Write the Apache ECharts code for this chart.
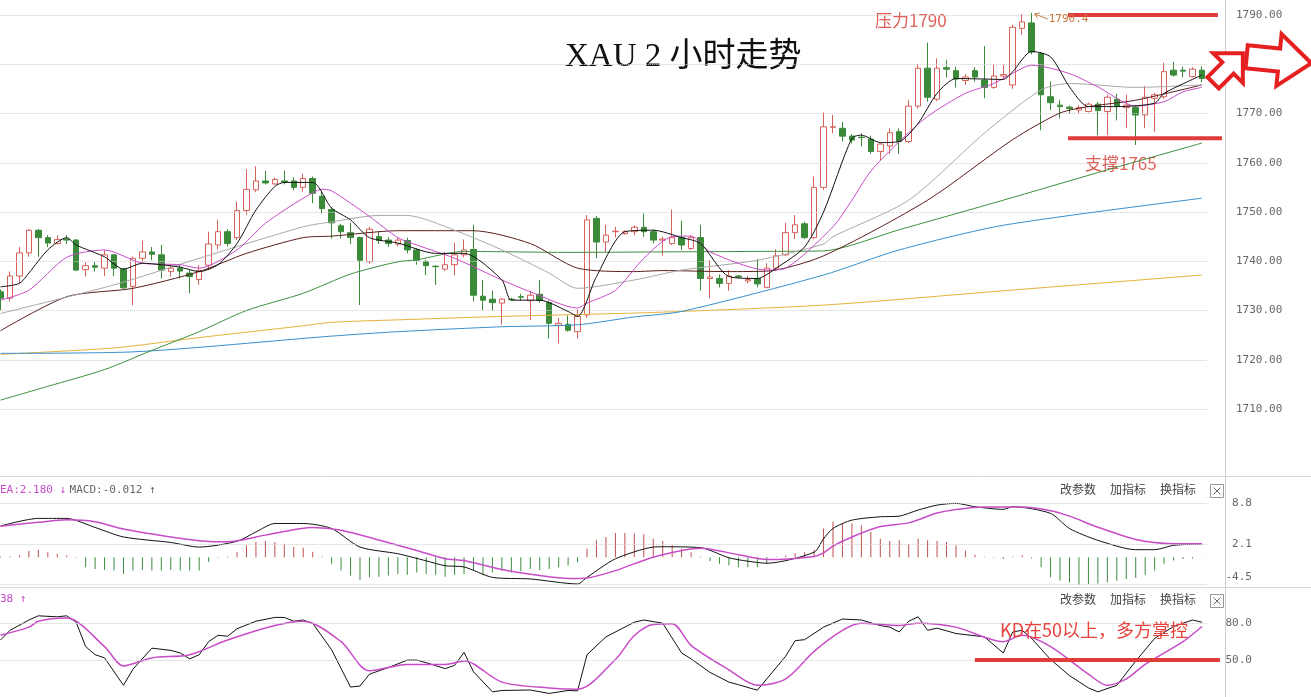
<!DOCTYPE html>
<html>
<head>
<meta charset="utf-8">
<script src="https://cdn.jsdelivr.net/npm/echarts@6.0.0/dist/echarts.min.js"></script>
<style>html,body{margin:0;padding:0;background:#fff;overflow:hidden;width:1311px;height:697px;position:relative}
#chart{position:absolute;left:-10px;top:-40px;width:1321px;height:737px}</style>
</head>
<body>
<div id="chart"></div>
<script>
// ---------- price data (2h candles) ----------
const opens = [1733.8,1732.5,1737.0,1741.7,1746.3,1744.8,1743.6,1744.5,1744.3,1738.3,
1739.1,1738.6,1741.3,1738.4,1734.9,1740.6,1741.9,1741.3,1737.9,1738.6,
1737.6,1736.3,1739.2,1743.3,1746.0,1744.8,1750.3,1754.5,1756.3,1755.7,
1756.3,1756.3,1755.0,1756.8,1753.2,1750.5,1747.2,1745.8,1744.8,1739.9,
1745.0,1744.3,1743.5,1744.2,1742.3,1739.9,1739.0,1738.4,1739.3,1741.3,
1742.4,1732.9,1732.3,1731.5,1732.3,1732.8,1732.0,1733.3,1731.6,1727.0,
1727.2,1725.7,1729.1,1748.7,1743.9,1746.0,1745.6,1746.0,1746.9,1746.0,
1744.3,1743.6,1744.8,1742.6,1744.8,1736.5,1736.5,1735.5,1737.0,1736.0,
1736.5,1734.7,1738.6,1741.3,1745.8,1747.6,1744.8,1755.0,1767.2,1767.0,
1765.4,1765.2,1764.8,1762.3,1763.4,1766.3,1764.3,1771.5,1779.2,1772.9,
1779.3,1778.7,1776.7,1778.7,1776.8,1775.3,1777.6,1775.8,1787.3,1788.4,
1782.2,1773.4,1771.7,1771.3,1770.7,1770.4,1771.9,1770.4,1772.9,1771.2,
1771.2,1769.7,1773.1,1773.4,1778.8,1778.8,1777.5,1778.8];
const closes = [1732.5,1737.0,1741.7,1746.3,1744.8,1743.7,1744.4,1744.3,1738.2,1739.1,
1738.8,1741.3,1738.6,1734.6,1740.6,1741.9,1741.4,1738.2,1738.6,1738.0,
1736.9,1738.1,1743.5,1746.0,1743.6,1750.3,1754.6,1756.3,1755.9,1756.6,
1756.1,1755.0,1756.8,1753.8,1750.7,1747.8,1746.0,1744.8,1740.2,1746.5,
1744.2,1743.6,1744.3,1742.3,1740.2,1739.1,1738.9,1739.3,1741.3,1742.3,
1733.1,1732.1,1731.6,1732.3,1732.2,1732.7,1733.1,1732.0,1727.4,1727.4,
1726.0,1728.8,1748.4,1743.9,1745.3,1746.1,1746.0,1746.9,1746.0,1744.3,
1744.5,1744.8,1743.3,1744.8,1736.5,1736.8,1735.5,1737.0,1736.8,1736.3,
1735.4,1738.6,1741.1,1745.8,1747.4,1744.8,1755.0,1767.3,1767.3,1765.4,
1764.6,1765.1,1762.3,1763.8,1766.1,1764.3,1771.5,1779.2,1773.3,1779.2,
1779.0,1777.0,1777.4,1777.4,1775.3,1777.6,1777.9,1787.5,1788.6,1782.5,
1773.8,1772.2,1771.4,1771.0,1771.2,1771.9,1770.6,1773.3,1771.5,1771.7,
1769.7,1773.3,1773.8,1778.5,1777.8,1778.6,1779.0,1777.1];
const highs = [1734.3,1737.9,1742.9,1746.5,1746.5,1745.3,1745.3,1745.3,1744.5,1739.8,
1739.9,1742.3,1741.5,1738.6,1741.0,1744.2,1742.9,1743.3,1739.3,1739.3,
1738.2,1739.2,1746.0,1748.4,1746.5,1752.1,1758.7,1759.3,1758.4,1757.0,
1758.4,1757.0,1757.8,1757.2,1754.1,1751.0,1747.6,1747.8,1745.0,1747.0,
1746.0,1744.9,1744.8,1744.8,1742.7,1740.3,1739.2,1741.9,1743.8,1744.4,
1747.4,1736.2,1734.0,1732.5,1732.6,1733.4,1734.0,1736.2,1732.0,1728.5,
1729.0,1730.2,1749.4,1749.2,1747.4,1747.0,1746.3,1747.3,1749.7,1746.5,
1745.0,1750.5,1748.2,1745.3,1747.4,1740.2,1737.3,1738.2,1737.2,1737.0,
1740.4,1739.6,1742.4,1747.8,1749.4,1748.0,1757.2,1770.2,1769.7,1768.3,
1765.8,1766.0,1765.5,1764.0,1767.0,1767.0,1772.7,1780.0,1784.4,1781.2,
1780.9,1779.5,1778.0,1779.4,1783.7,1779.9,1779.9,1788.0,1790.2,1790.4,
1782.5,1776.5,1772.7,1771.6,1771.7,1772.2,1772.3,1773.8,1774.0,1773.8,
1771.5,1775.6,1774.2,1780.3,1780.5,1779.5,1779.4,1779.6];
const lows = [1730.0,1731.8,1735.5,1740.9,1740.9,1742.9,1743.4,1743.5,1738.0,1736.9,
1737.9,1737.0,1737.0,1734.4,1731.1,1739.6,1740.2,1736.5,1736.9,1736.5,
1733.5,1735.2,1738.2,1742.4,1743.0,1744.3,1749.4,1754.0,1755.6,1755.5,
1755.6,1754.4,1754.1,1751.8,1749.7,1744.6,1744.6,1743.5,1731.1,1739.5,
1743.5,1742.9,1743.0,1741.6,1739.3,1737.2,1735.2,1738.0,1737.2,1740.8,
1731.8,1730.1,1729.9,1727.1,1732.0,1732.0,1728.1,1731.6,1724.3,1723.3,
1725.7,1724.3,1728.5,1740.6,1741.9,1744.8,1745.4,1745.3,1745.0,1743.6,
1741.1,1743.3,1742.3,1742.3,1734.0,1732.5,1734.7,1734.0,1736.5,1735.5,
1734.7,1734.5,1738.0,1741.0,1744.5,1744.5,1744.5,1754.5,1766.0,1764.3,
1763.9,1763.3,1761.8,1760.5,1761.8,1761.8,1764.0,1771.0,1772.4,1772.5,
1777.3,1775.3,1775.8,1776.5,1773.1,1775.0,1777.0,1775.0,1786.0,1782.0,
1766.6,1770.7,1769.0,1770.0,1770.0,1770.2,1765.6,1765.6,1768.6,1767.0,
1763.6,1767.0,1766.3,1773.0,1777.5,1777.3,1777.3,1776.4];

// ---------- moving averages: [candle index, value] ----------
const maBlack = [[0,1734.8],[2,1735.5],[3,1737.6],[5,1742.3],[7,1744.8],[8,1743.3],[11,1740.9],[13,1738.4],[15,1739.6],[17,1739.3],[19,1738.8],[21,1737.9],[23,1739.3],[25,1743.6],[27,1750.4],[29,1755.2],[30,1756],[33,1756],[35,1750.8],[37,1748.4],[39,1744.8],[42,1743.7],[46,1741.6],[49,1741.6],[53,1736.2],[54,1732.1],[57,1732.1],[60,1729.8],[61,1728.8],[63,1736.9],[66,1746],[69,1746.3],[72,1744.8],[74,1743.6],[77,1736.9],[80,1736.5],[82,1738.6],[85,1742.9],[87,1750],[90,1765],[91,1765.6],[93,1764.1],[95,1764.3],[97,1768],[99,1774.1],[101,1777.1],[104,1777],[106,1776.9],[107,1778.5],[109,1782.6],[111,1781.5],[113,1775.4],[115,1771.4],[118,1771.4],[122,1772.1],[123,1774.1],[127,1777.8]];
const maPink = [[0,1732.1],[3,1734.1],[7,1740.8],[11,1742.3],[15,1739.6],[19,1739.3],[21,1738.6],[25,1742.3],[28,1747.7],[32,1752.8],[34,1754.6],[35,1754.3],[39,1749.1],[42,1744.8],[44,1743.3],[48,1740.6],[53,1736.2],[56,1733.8],[61,1730.5],[62,1731.5],[65,1734.1],[68,1740.6],[71,1745],[73,1745.1],[75,1741.9],[81,1738.2],[83,1738.6],[88,1747],[90,1752.4],[92,1758.3],[95,1764.3],[98,1769.4],[102,1774.1],[105,1776.1],[108,1779.2],[109,1779.8],[113,1778.1],[116,1775.4],[120,1771.5],[123,1772.4],[125,1774.4],[127,1775.3]];
const maGray = [[0,1729.4],[12,1735.2],[21,1740.6],[32,1747],[35,1748],[40,1749.3],[43,1749.3],[48,1746.3],[53,1742.3],[58,1737.6],[61,1734.5],[67,1736.2],[72,1738.2],[80,1740.2],[87,1743.5],[88,1745],[96,1752.4],[104,1766],[110,1774.8],[113,1776.1],[120,1775.3],[127,1775.8]];
const maBrown = [[0,1725.9],[7,1732.8],[14,1734.5],[21,1737.9],[26,1741.6],[32,1744.8],[35,1745.1],[42,1746.2],[50,1746.2],[56,1743.6],[61,1738.6],[67,1737.9],[70,1738.1],[77,1737.9],[81,1738],[87,1741.1],[98,1752.4],[107,1764.7],[112,1770.1],[115,1771.4],[120,1772.7],[127,1775.8]];
const maGreen = [[0,1711.8],[5,1714.6],[11,1718],[16,1721.9],[21,1725.7],[26,1730],[32,1733.5],[37,1737.4],[42,1739.9],[44,1740.3],[49,1742],[60,1741.8],[70,1741.9],[80,1742],[87,1742.1],[95,1746.4],[106,1752.4],[116,1758],[127,1764]];
const maBlue = [[0,1721.3],[14,1721.6],[35,1724.8],[42,1725.7],[53,1726.7],[61,1727.1],[67,1728.7],[72,1729.8],[87,1737.2],[95,1742.3],[106,1747.3],[127,1752.8]];
const maYellow = [[0,1721.1],[12,1722.4],[21,1724.5],[32,1726.9],[35,1727.6],[42,1728.1],[53,1728.8],[69,1729.6],[87,1731.1],[106,1734],[127,1737.2]];

// ---------- MACD ----------
const macdDif = [[0,5.1],[4,6.33],[7,6.33],[10,4.85],[13,3.3],[18,2.4],[21,1.65],[25,2.59],[27,4.12],[29,5.5],[32,5.5],[35,4.68],[38,1.65],[42,0.56],[45,-0.6],[47,-1.4],[49,-1.6],[52,-3.3],[56,-3.56],[61,-4.38],[62,-3.3],[65,-0.27],[69,1.65],[70,1.7],[74,1.55],[77,-0.1],[79,-0.66],[81,-0.99],[86,0.8],[87,3.0],[88,4.7],[90,6.05],[93,6.6],[95,6.7],[97,7.7],[99,8.5],[101,8.8],[103,8.24],[106,7.81],[107,8.24],[111,7.15],[113,4.68],[116,2.75],[120,1.22],[122,1.22],[124,1.93],[127,2.17]];
const macdDea = [[0,5.05],[4,5.7],[7,6.1],[10,5.8],[13,4.6],[18,3.3],[21,2.7],[24,2.5],[28,3.6],[33,4.85],[36,4.4],[40,2.8],[44,1.1],[47,-0.26],[49,-0.54],[53,-2.0],[57,-3.0],[60,-3.5],[62,-3.4],[65,-2.2],[69,0.0],[74,1.45],[78,0.4],[81,-0.4],[86,0.12],[87,0.7],[88,1.8],[90,3.3],[93,5.0],[96,5.6],[99,7.2],[101,7.8],[104,8.2],[108,8.2],[111,7.6],[113,6.7],[116,4.9],[120,2.9],[124,2.2],[127,2.18]];
const macdHist = [0.1,0.15,0.3,1.0,1.2,0.82,0.56,0.28,-0.1,-1.65,
-1.92,-2.08,-2.2,-2.75,-2.2,-2.08,-2.2,-2.2,-2.08,-2.2,
-2.2,-2.2,-0.8,-0.1,0.1,0.82,1.93,2.47,2.64,2.47,
2.2,1.65,1.55,0.9,0.1,-1.08,-2.2,-3.0,-3.72,-3.3,
-3.2,-3.0,-2.75,-2.86,-2.5,-2.75,-2.86,-3.2,-2.86,-2.75,
-2.2,-2.75,-2.5,-2.2,-2.5,-2.3,-1.92,-2.08,-1.92,-1.65,
-1.37,-0.82,1.4,2.75,3.3,3.95,3.95,3.85,3.75,3.0,
2.64,1.93,1.4,0.82,0.1,-0.66,-1.08,-1.37,-1.65,-1.65,
-1.65,-1.08,0.1,0.28,0.66,0.82,1.2,4.68,5.77,5.5,
5.5,5.2,4.1,3.0,2.64,2.75,2.2,3.0,2.75,2.64,
2.47,1.93,1.1,0.4,0.05,-0.1,-0.3,0.1,0.3,-0.2,
-1.65,-3.3,-3.85,-4.13,-4.68,-4.4,-4.3,-4.13,-3.85,-3.56,
-3.4,-2.86,-2.2,-1.08,-0.54,-0.3,-0.2,-0.05];
const macdTickValues = [-4.5, 2.15, 8.8];
const macdTickLabels = ['-4.5', '2.1', '8.8'];

// ---------- KD ----------
const kdK = [[0,66.3],[1,74.2],[3,82.6],[4,86],[6,85.2],[7,86],[8,80.8],[9,61],[10,54.4],[11,51.8],[13,29.5],[14,42.6],[16,59.7],[18,57.9],[19,55.8],[20,51],[21,54.4],[22,65],[23,70.2],[24,69.4],[25,75.5],[27,81.6],[29,84.7],[30,84.7],[31,81.6],[32,82.6],[33,80],[35,58.4],[37,28.1],[38,28.9],[39,38.6],[41,43.9],[43,50],[44,50],[45,47.9],[47,43.1],[48,45.7],[49,56.3],[50,40.5],[52,24.2],[53,25.3],[56,25.7],[58,22.9],[60,25.3],[61,25],[62,54.4],[64,68.9],[67,80.8],[68,82.6],[70,80],[72,55.8],[73,51],[75,40],[77,32.1],[78,30],[80,25.5],[83,53.2],[84,65.8],[85,66.6],[87,76.8],[89,83.4],[91,82.6],[93,78.1],[94,76.8],[95,72.9],[96,81.6],[97,85.2],[98,74.2],[99,76],[101,71.6],[104,68.9],[106,55.8],[107,72.9],[108,74.2],[109,67.6],[111,50.5],[113,37.4],[115,27.4],[116,24.2],[118,29.5],[120,49.2],[122,67.6],[124,77.3],[126,82.6],[127,80.8]];
const kdD = [[0,70.2],[3,76.8],[4,81.6],[7,84.2],[11,61],[13,45.3],[16,51.8],[20,54.4],[24,66.3],[29,78.1],[32,81.6],[36,65],[39,41.3],[43,46.5],[47,46.5],[49,49.2],[53,32.1],[58,27.4],[61,26.3],[65,50.5],[67,70],[69,79],[71,79.5],[73,62],[77,42.1],[80,29.5],[83,34.7],[86,57.1],[89,74.2],[91,80],[95,78.1],[97,80],[101,76.8],[106,65],[108,70.2],[111,61],[115,38.6],[117,29.5],[119,34.7],[121,46.5],[125,65],[127,77.3]];
const kdTickValues = [50, 80];

// ---------- build ----------
const OX = 10, OY = 40; // chart canvas is shifted by (-OX,-OY) so the first candle is cut at the left edge
const cats = opens.map((_, i) => String(i));
const candles = opens.map((o, i) => [o, closes[i], lows[i], highs[i]]);

const UP = '#d8605b', DOWN = '#3a8a3a';
const PINK = '#c84bc8';
const GL = -4.23 + OX, GW = 1210.9;

function maSeries(data, color, w) {
  return { type: 'line', xAxisIndex: 0, yAxisIndex: 0, data: data, symbol: 'none', smooth: 0.25,
    lineStyle: { color: color, width: w || 1 }, z: 5, clip: false, silent: true };
}
function gridMark(vals) {
  return { silent: true, symbol: 'none', label: { show: false },
    lineStyle: { type: 'dotted', color: '#cfcfcf', width: 1 }, data: vals.map(v => ({ yAxis: v })) };
}

const chart = echarts.init(document.getElementById('chart'), null, { renderer: 'canvas' });
const axisLabelFont = { color: '#666', fontFamily: 'DejaVu Sans Mono', fontSize: 11 };

const option = {
  animation: false,
  backgroundColor: '#fff',
  grid: [
    { left: GL, width: GW, top: -34.25 + OY, height: 492.5 },
    { left: GL, width: GW, top: 503.3 + OY, height: 81.4 },
    { left: GL, width: GW, top: 586.3 + OY, height: 114 }
  ],
  xAxis: [0, 1, 2].map(g => ({ type: 'category', gridIndex: g, data: cats, show: false, boundaryGap: true })),
  yAxis: [
    { type: 'value', gridIndex: 0, position: 'right', offset: 18.3, min: 1700, max: 1800, interval: 10,
      axisLine: { show: false }, axisTick: { show: false },
      axisLabel: Object.assign({ margin: 11, formatter: v => (v >= 1710 && v <= 1790) ? v.toFixed(2) : '' }, axisLabelFont),
      splitLine: { show: false } },
    { type: 'value', gridIndex: 1, position: 'right', offset: 18.3, min: -4.5, max: 8.8,
      axisLine: { show: false }, axisTick: { show: false }, splitLine: { show: false },
      axisLabel: Object.assign({ margin: 27, align: 'right', customValues: macdTickValues,
        formatter: v => { const i = macdTickValues.findIndex(t => Math.abs(t - v) < 0.01); if (i < 0) return ''; return i === 0 ? '{lo|' + macdTickLabels[i] + '}' : macdTickLabels[i]; },
        rich: { lo: { padding: [0, 0, 15, 0], color: '#666', fontFamily: 'DejaVu Sans Mono', fontSize: 11 } } }, axisLabelFont) },
    { type: 'value', gridIndex: 2, position: 'right', offset: 18.3, min: 20, max: 110, interval: 10,
      axisLine: { show: false }, axisTick: { show: false }, splitLine: { show: false },
      axisLabel: Object.assign({ margin: 27, align: 'right', formatter: v => kdTickValues.includes(v) ? v.toFixed(1) : '' }, axisLabelFont) }
  ],
  series: [
    { type: 'candlestick', xAxisIndex: 0, yAxisIndex: 0, data: candles, barWidth: 6, clip: false, silent: true,
      itemStyle: { color: '#ffffff', color0: DOWN, borderColor: UP, borderColor0: DOWN, borderWidth: 1 },
      markLine: gridMark([1710, 1720, 1730, 1740, 1750, 1760, 1770, 1780, 1790]), z: 3 },
    maSeries(maYellow, '#e6b23c'),
    maSeries(maBlue, '#3a8fce'),
    maSeries(maGreen, '#3f8f3f'),
    maSeries(maBrown, '#5a1e1e'),
    maSeries(maGray, '#a8a8a8'),
    maSeries(maPink, PINK),
    maSeries(maBlack, '#111111'),
    { type: 'bar', xAxisIndex: 1, yAxisIndex: 1, data: macdHist, barWidth: 1, silent: true,
      itemStyle: { color: p => p.value >= 0 ? '#c0504d' : '#3d8a3d' } },
    { type: 'line', xAxisIndex: 1, yAxisIndex: 1, data: macdDif, symbol: 'none', smooth: 0.25, clip: false, silent: true,
      lineStyle: { color: '#111', width: 1 }, markLine: gridMark(macdTickValues) },
    { type: 'line', xAxisIndex: 1, yAxisIndex: 1, data: macdDea, symbol: 'none', smooth: 0.25, clip: false, silent: true,
      lineStyle: { color: PINK, width: 1.5 } },
    { type: 'line', xAxisIndex: 2, yAxisIndex: 2, data: kdK, symbol: 'none', clip: false, silent: true,
      lineStyle: { color: '#111', width: 1 }, markLine: gridMark(kdTickValues) },
    { type: 'line', xAxisIndex: 2, yAxisIndex: 2, data: kdD, symbol: 'none', smooth: 0.3, clip: false, silent: true,
      lineStyle: { color: PINK, width: 1.5 } }
  ]
};
chart.setOption(option);

// ---------- annotations (anchored through the chart's own scales) ----------
const px = (g, i, v) => chart.convertToPixel({ gridIndex: g }, [i, v]);
const last = closes.length - 1;
const res = px(0, 113, 1790), sup = px(0, 113, 1765), kd50 = px(2, 103, 50);
const xEnd = px(0, last, 1790)[0];
const hi = px(0, 109, highs[109]);

function arrowPts(L, sh, hh, hs) { return [[-L, -sh], [hs, -sh], [hs, -hh], [L, 0], [hs, hh], [hs, sh], [-L, sh]]; }
const btnFont = { fontSize: 12, fill: '#444', fontFamily: 'Noto Sans CJK SC' };
function buttons(y) {
  y += OY;
  const x = OX;
  return [
    { type: 'text', left: 1060 + x, top: y, style: Object.assign({ text: '改参数' }, btnFont) },
    { type: 'text', left: 1110 + x, top: y, style: Object.assign({ text: '加指标' }, btnFont) },
    { type: 'text', left: 1160 + x, top: y, style: Object.assign({ text: '换指标' }, btnFont) },
    { type: 'rect', shape: { x: 1210.5 + x, y: y + 1.5, width: 13, height: 13 }, style: { fill: '#fff', stroke: '#999' } },
    { type: 'line', shape: { x1: 1213.5 + x, y1: y + 4.5, x2: 1220.5 + x, y2: y + 11.5 }, style: { stroke: '#666' } },
    { type: 'line', shape: { x1: 1220.5 + x, y1: y + 4.5, x2: 1213.5 + x, y2: y + 11.5 }, style: { stroke: '#666' } }
  ];
}

chart.setOption({
  graphic: [
    { type: 'line', shape: { x1: 0, y1: 476.5 + OY, x2: 1330, y2: 476.5 + OY }, style: { stroke: '#d8d8d8' }, z: 1 },
    { type: 'line', shape: { x1: 0, y1: 587.5 + OY, x2: 1330, y2: 587.5 + OY }, style: { stroke: '#d8d8d8' }, z: 1 },
    { type: 'line', shape: { x1: 1225.5 + OX, y1: 0, x2: 1225.5 + OX, y2: 740 }, style: { stroke: '#d0d0d0' }, z: 1 },
    { type: 'text', left: 565 + OX, top: 41 + OY, style: { text: 'XAU 2 小时走势', fontSize: 33, fill: '#111', fontFamily: 'Liberation Serif, Noto Sans CJK SC' } },
    { type: 'text', left: 875 + OX, top: 12 + OY, style: { text: '压力1790', fontSize: 17, fill: '#e0605a', fontFamily: 'Noto Sans CJK SC' } },
    { type: 'text', left: 1085 + OX, top: 155 + OY, style: { text: '支撑1765', fontSize: 17, fill: '#e0605a', fontFamily: 'Noto Sans CJK SC' } },
    { type: 'text', left: 1000 + OX, top: 621 + OY, style: { text: 'KD在50以上，多方掌控', fontSize: 18, fill: '#e8423c', fontFamily: 'Noto Sans CJK SC' }, z: 20 },
    { type: 'line', shape: { x1: res[0] - 1.5, y1: res[1], x2: xEnd + 16, y2: res[1] }, style: { stroke: '#e03c3c', lineWidth: 4 }, z: 20 },
    { type: 'line', shape: { x1: sup[0] - 1.5, y1: sup[1], x2: xEnd + 20, y2: sup[1] }, style: { stroke: '#e03c3c', lineWidth: 4 }, z: 20 },
    { type: 'line', shape: { x1: kd50[0], y1: kd50[1], x2: xEnd + 18, y2: kd50[1] }, style: { stroke: '#e03c3c', lineWidth: 4 }, z: 20 },
    { type: 'line', shape: { x1: hi[0] + 3, y1: hi[1] + 1, x2: hi[0] + 16, y2: hi[1] + 6 }, style: { stroke: '#c8783a', lineWidth: 1 }, z: 20 },
    { type: 'polyline', shape: { points: [[hi[0] + 8, hi[1]], [hi[0] + 3, hi[1] + 1], [hi[0] + 6, hi[1] + 5]] }, style: { stroke: '#c8783a', fill: null, lineWidth: 1 }, z: 20 },
    { type: 'text', left: hi[0] + 17, top: hi[1] + 1, style: { text: '1790.4', fontSize: 11, fill: '#c8783a', fontFamily: 'DejaVu Sans Mono' }, z: 20 },
    { type: 'polygon', x: 1228 + OX, y: 68 + OY, rotation: Math.PI / 4, shape: { points: arrowPts(21, 8, 21, 0) },
      style: { fill: '#fff', stroke: '#e62020', lineWidth: 4, lineJoin: 'miter' }, z: 30 },
    { type: 'polygon', x: 1279 + OX, y: 60 + OY, rotation: -0.1, shape: { points: arrowPts(32.5, 11.5, 26, 0) },
      style: { fill: '#fff', stroke: '#e62020', lineWidth: 4, lineJoin: 'miter' }, z: 30 },
    { type: 'text', left: 0 + OX, top: 484 + OY, style: { rich: { m: { fill: PINK, fontSize: 11, fontFamily: 'DejaVu Sans Mono' }, g: { fill: '#666', fontSize: 11, fontFamily: 'DejaVu Sans Mono' } }, text: '{m|EA:2.180 ↓} {g|MACD:-0.012 ↑}' } },
    { type: 'text', left: 0 + OX, top: 594 + OY, style: { text: '38 ↑', fill: PINK, fontSize: 11, fontFamily: 'DejaVu Sans Mono' } }
  ].concat(buttons(483), buttons(593))
});
</script>
</body>
</html>
